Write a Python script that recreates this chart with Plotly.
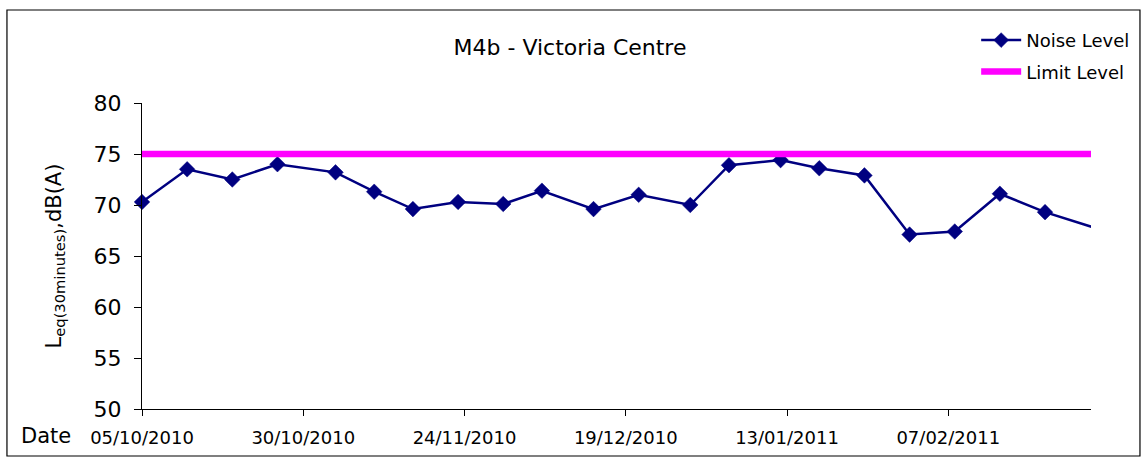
import plotly.graph_objects as go

# ---- data ----
dates = ['2010-10-05', '2010-10-12', '2010-10-19', '2010-10-26', '2010-11-04',
         '2010-11-10', '2010-11-16', '2010-11-23', '2010-11-30', '2010-12-06',
         '2010-12-14', '2010-12-21', '2010-12-29', '2011-01-04', '2011-01-12',
         '2011-01-18', '2011-01-25', '2011-02-01', '2011-02-08', '2011-02-15',
         '2011-02-22', '2011-03-08']
noise_level = [70.3, 73.5, 72.5, 74.0, 73.2, 71.3, 69.6, 70.3, 70.1, 71.4,
               69.6, 71.0, 70.0, 73.9, 74.4, 73.6, 72.9, 67.1, 67.4, 71.1,
               69.3, 66.5]
limit_dates = ['2010-10-05', '2011-03-08']
limit_level = [75, 75]
tick_dates = ['2010-10-05', '2010-10-30', '2010-11-24', '2010-12-19', '2011-01-13', '2011-02-07']
tick_labels = ['05/10/2010', '30/10/2010', '24/11/2010', '19/12/2010', '13/01/2011', '07/02/2011']
x_range = ['2010-10-05', '2011-03-01 03:00']
y_range = [50, 80]

FONT = 'DejaVu Sans'
NAVY = '#000080'

marker_sizes = [12] * (len(noise_level) - 1) + [0]

fig = go.Figure()
fig.add_trace(go.Scatter(
    x=dates, y=noise_level, name='Noise Level', mode='lines+markers',
    line=dict(color=NAVY, width=2.5),
    marker=dict(symbol='diamond', size=marker_sizes, color=NAVY, opacity=1,
                line=dict(color=NAVY, width=0.5)),
    cliponaxis=False, legendgroup='a'))
fig.add_trace(go.Scatter(
    x=limit_dates, y=limit_level, name='Limit Level', mode='lines',
    line=dict(color='#FF00FF', width=6.5), legendgroup='b'))

fig.update_layout(
    width=1143, height=462,
    margin=dict(l=142, r=52, t=103, b=53, autoexpand=False),
    paper_bgcolor='white', plot_bgcolor='white',
    font=dict(family=FONT, color='black'),
    title=dict(text='M4b - Victoria Centre', x=0.4987, xanchor='center',
               y=1 - 47 / 462, yanchor='middle', font=dict(size=22, family=FONT)),
    showlegend=True,
    legend=dict(x=0.879, xanchor='left', y=1.265, yanchor='top',
                font=dict(size=18, family=FONT), bgcolor='rgba(0,0,0,0)',
                tracegroupgap=5, itemwidth=40),
    xaxis=dict(type='date', range=x_range, tickvals=tick_dates, ticktext=tick_labels,
               showgrid=False, zeroline=False, showline=True, linecolor='black',
               linewidth=1, ticks='outside', ticklen=6, tickcolor='black',
               ticklabelstandoff=6,
               tickfont=dict(size=18, family=FONT)),
    yaxis=dict(range=y_range, dtick=5, tick0=50, showgrid=False, zeroline=False,
               showline=True, linecolor='black', linewidth=1, ticks='outside',
               ticklen=7, tickcolor='black', ticklabelstandoff=8,
               tickfont=dict(size=22, family=FONT),
               title=dict(text='L<sub>eq(30minutes)</sub>,dB(A)',
                          font=dict(size=21, family=FONT), standoff=26)),
)

fig.add_annotation(text='Date', xref='paper', yref='paper', x=-0.1008, y=-0.088,
                   xanchor='center', yanchor='middle', showarrow=False,
                   font=dict(size=21, family=FONT))

fig.add_shape(type='rect', xref='paper', yref='paper',
              x0=-0.1423, x1=1.0516, y0=-0.1536, y1=1.304,
              line=dict(color='black', width=1.2), fillcolor='rgba(0,0,0,0)')

fig.write_html('out.html', config={'displayModeBar': False},
               post_script="document.body.style.margin='0px';")
